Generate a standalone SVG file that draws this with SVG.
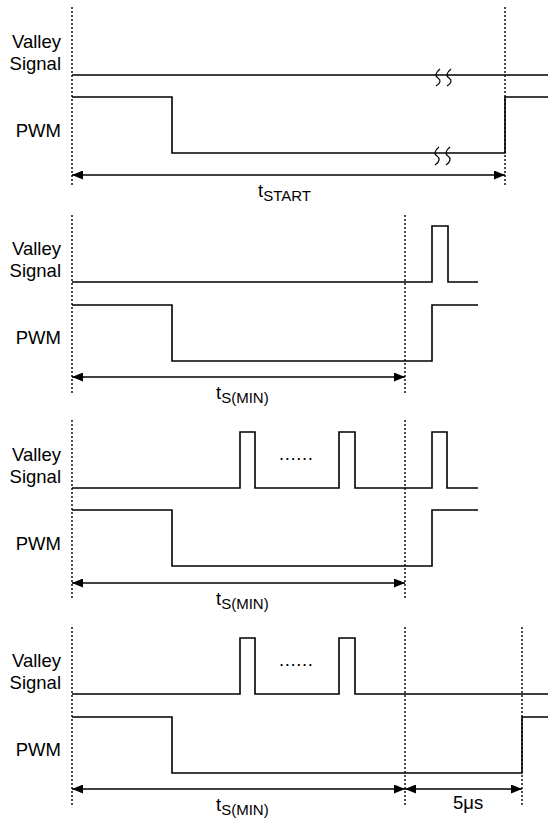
<svg xmlns="http://www.w3.org/2000/svg" width="550" height="818" viewBox="0 0 550 818">
<style>
.lbl{font-family:"Liberation Sans",Arial,sans-serif;font-size:18.5px;fill:#000}
.sub{font-size:15px}
.sig{fill:none;stroke:#000;stroke-width:1.6}
.dot{fill:none;stroke:#000;stroke-width:1.4;stroke-dasharray:2,2}
.arr{fill:none;stroke:#000;stroke-width:1.4;marker-start:url(#ah);marker-end:url(#ah)}
.brk{fill:none;stroke:#000;stroke-width:1.2}
</style>
<defs>
<marker id="ah" markerUnits="userSpaceOnUse" markerWidth="12" markerHeight="9" refX="11" refY="4.5" orient="auto-start-reverse">
<path d="M0,0 L11,4.5 L0,9 z" fill="#000"/>
</marker>
</defs>
<rect width="550" height="818" fill="#fff"/>

<g id="panel1">
<text class="lbl" x="61" y="48" text-anchor="end">Valley</text>
<text class="lbl" x="61" y="70" text-anchor="end">Signal</text>
<text class="lbl" x="61" y="137" text-anchor="end">PWM</text>
<path class="sig" d="M72,75 H548"/>
<path class="sig" d="M72,97 H172 V153 H505 V97 H548"/>
<path class="brk" d="M440,69 C435,73 435,76 438,78 C441,80 441,83 436,86 M451,69 C446,73 446,76 449,78 C452,80 452,83 447,86"/>
<path class="brk" d="M439,147 C434,151 434,154 437,156 C440,158 440,162 435,165 M450,147 C445,151 445,154 448,156 C451,158 451,162 446,165"/>
<text class="lbl" x="258" y="197">t<tspan class="sub" dy="4">START</tspan></text>
</g>

<g id="panel2">
<text class="lbl" x="61" y="255" text-anchor="end">Valley</text>
<text class="lbl" x="61" y="277" text-anchor="end">Signal</text>
<text class="lbl" x="61" y="344" text-anchor="end">PWM</text>
<path class="sig" d="M72,282 H432 V226 H448 V282 H478"/>
<path class="sig" d="M72,305 H172 V361 H432 V305 H478"/>
<text class="lbl" x="216" y="399">t<tspan class="sub" dy="4">S(MIN)</tspan></text>
</g>

<g id="panel3">
<text class="lbl" x="61" y="461" text-anchor="end">Valley</text>
<text class="lbl" x="61" y="483" text-anchor="end">Signal</text>
<text class="lbl" x="61" y="550" text-anchor="end">PWM</text>
<path class="sig" d="M72,488 H240 V432 H255 V488 H339 V432 H355 V488 H432 V432 H447 V488 H478"/>
<path class="sig" d="M72,510 H172 V566 H432 V510 H478"/>
<text class="lbl" x="279" y="460" textLength="34" lengthAdjust="spacing">......</text>
<text class="lbl" x="216" y="605">t<tspan class="sub" dy="4">S(MIN)</tspan></text>
</g>

<g id="panel4">
<text class="lbl" x="61" y="667" text-anchor="end">Valley</text>
<text class="lbl" x="61" y="689" text-anchor="end">Signal</text>
<text class="lbl" x="61" y="756" text-anchor="end">PWM</text>
<path class="sig" d="M72,694 H240 V638 H255 V694 H339 V638 H355 V694 H548"/>
<path class="sig" d="M72,717 H172 V773 H522 V717 H548"/>
<text class="lbl" x="279" y="666" textLength="34" lengthAdjust="spacing">......</text>
<text class="lbl" x="216" y="811">t<tspan class="sub" dy="4">S(MIN)</tspan></text>
<text class="lbl" x="453" y="809">5μs</text>
</g>

<g id="connectors">
<path class="dot" d="M72,7 V187 M505,7 V187"/>
<path class="dot" d="M72,215 V393 M405,215 V393"/>
<path class="dot" d="M72,420 V600 M405,420 V600"/>
<path class="dot" d="M72,627 V806 M405,627 V806 M522,627 V806"/>
<line class="arr" x1="72" y1="175" x2="505" y2="175"/>
<line class="arr" x1="72" y1="377" x2="405" y2="377"/>
<line class="arr" x1="72" y1="583" x2="405" y2="583"/>
<line class="arr" x1="72" y1="789" x2="405" y2="789"/>
<line class="arr" x1="405" y1="789" x2="522" y2="789"/>
</g>
</svg>
